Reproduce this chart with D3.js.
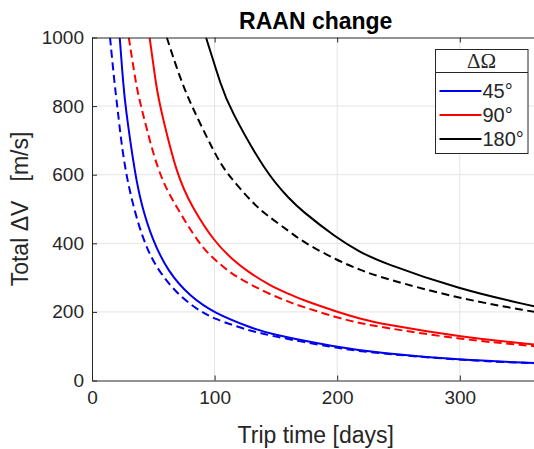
<!doctype html>
<html lang="en">
<head>
<meta charset="utf-8">
<script src="https://cdn.jsdelivr.net/npm/d3@7"></script>
<style>
  body {margin:0; background:#fff}
  svg {display:block; overflow:hidden; font-family:"Liberation Sans", Arial, sans-serif}
  .grid line {stroke:#e4e4e4; stroke-width:1}
  .axis path, .axis line {stroke:#262626}
  .axis text {fill:#262626; font-size:19px}
</style>
<title>RAAN change</title>
</head>
<body>
<script>
// [trip time (days), total dV (m/s)]
const dv45 = [[22.6,1000],[25.6,860],[27.2,800],[35.1,600],[40.5,510],[49,412],[62.3,315],[80,245],[100,196],[129,155],[143,137],[200,97],[235,80],[300,60],[361,51]];
const dv45Dash = [[14.7,1000],[18.8,850],[20.7,800],[26.7,600],[41.7,400],[55.5,312],[71.8,244],[89,200],[100,180],[118,157],[143,131],[200,95],[219,84],[300,59],[361,50]];
const dv90 = [[47,1000],[52.7,850],[55.5,800],[69,600],[81.3,507],[100,403],[115,352],[126,320],[145,277],[161.5,251],[170,237],[200,200],[219,180],[235,166],[300,127],[361,105]];
const dv90Dash = [[30,1000],[36.5,850],[40,800],[54,600],[69,505],[87,400],[99,355],[112.6,315],[121,296],[143,254],[161.5,228],[170,217],[200,183],[219,167],[235,156],[300,120],[361,100]];
const dv180 = [[93,1000],[106,852],[111.5,800],[142,603],[162,526],[170,498],[200,414],[219,374],[235,346],[300,265],[361,216]];
const dv180Dash = [[61,1000],[71,890],[80.5,805],[100,663],[109,607],[131.6,515],[142.6,482],[161.5,433],[172.5,403],[200,350],[219,322],[235,301],[300,238],[361,200]];

const xTicks = [0,100,200,300];
const yTicks = [0,200,400,600,800,1000];
const legendLabels = ["45°","90°","180°"];

const colors = ["#0000ee","#ff0000","#000000"];
const series = [
  {data:dv45, c:0, dash:false}, {data:dv45Dash, c:0, dash:true},
  {data:dv90, c:1, dash:false}, {data:dv90Dash, c:1, dash:true},
  {data:dv180, c:2, dash:false}, {data:dv180Dash, c:2, dash:true}
];

let margin = {top:37.5, left:92};
let w = 447.5, h = 343;

let x = d3.scaleLinear().domain([0,365]).range([0,w]);
let y = d3.scaleLinear().domain([0,1000]).range([h,0]);

let svg = d3.select("body").append("svg")
  .attr("width",534)
  .attr("height",449);

let canvas = svg.append("g")
  .attr("transform","translate(" + margin.left + "," + margin.top + ")");

canvas.append("clipPath").attr("id","clip")
  .append("rect").attr("width",w).attr("height",h);

// grid
let grid = canvas.append("g").attr("class","grid");
grid.selectAll(".gx").data(xTicks.slice(1)).enter().append("line")
  .attr("x1",d=>x(d)).attr("x2",d=>x(d)).attr("y1",0).attr("y2",h);
grid.selectAll(".gy").data(yTicks.slice(1,-1)).enter().append("line")
  .attr("x1",0).attr("x2",w).attr("y1",d=>y(d)).attr("y2",d=>y(d));

// curves - b-spline smooths out the reading noise
let line = d3.line().x(d=>x(d[0])).y(d=>y(d[1])).curve(d3.curveBasis);
canvas.append("g").attr("clip-path","url(#clip)")
  .selectAll("path").data(series).enter().append("path")
  .attr("d",d=>line(d.data))
  .attr("fill","none")
  .attr("stroke",d=>colors[d.c])
  .attr("stroke-width",2)
  .attr("stroke-dasharray",d=>d.dash ? "8,4.5" : null);

// axes, matlab style ticks pointing inward
canvas.append("g").attr("class","axis")
  .attr("transform","translate(0," + h + ")")
  .call(d3.axisBottom(x).tickValues(xTicks).tickSizeInner(-5).tickSizeOuter(0).tickPadding(10).tickFormat(d3.format("d")));
canvas.append("g").attr("class","axis")
  .call(d3.axisLeft(y).tickValues(yTicks).tickSizeInner(-5).tickSizeOuter(0).tickPadding(8).tickFormat(d3.format("d")));
canvas.append("g").attr("class","axis")
  .call(d3.axisTop(x).tickValues(xTicks).tickSizeInner(-5).tickSizeOuter(0).tickFormat(""));

// titles
svg.append("text")
  .attr("x",margin.left + w/2).attr("y",29)
  .attr("text-anchor","middle")
  .attr("font-weight","bold").attr("font-size","23px")
  .text("RAAN change");

svg.append("text")
  .attr("x",margin.left + w/2).attr("y",443)
  .attr("text-anchor","middle").attr("fill","#262626")
  .attr("font-size","23px")
  .text("Trip time [days]");

svg.append("text")
  .attr("transform","translate(28," + (margin.top + h/2) + ") rotate(-90)")
  .attr("text-anchor","middle").attr("fill","#262626")
  .attr("font-size","23px")
  .text("Total ΔV\u00a0\u00a0\u00a0[m/s]");

// legend
let lg = svg.append("g").attr("transform","translate(435.5,49.5)");
lg.append("rect").attr("width",92.5).attr("height",104)
  .attr("fill","#fff").attr("stroke","#262626");
lg.append("line").attr("x1",0).attr("x2",92.5).attr("y1",23).attr("y2",23).attr("stroke","#262626");
lg.append("text").attr("x",46).attr("y",18.5).attr("text-anchor","middle")
  .attr("font-family","'Liberation Serif', serif")
  .attr("font-size","21px").attr("fill","#262626").text("ΔΩ");
let items = lg.selectAll(".item").data(legendLabels).enter().append("g")
  .attr("transform",(d,i)=>"translate(0," + (41.5 + i*24) + ")");
items.append("line").attr("x1",4).attr("x2",46).attr("stroke",(d,i)=>colors[i]).attr("stroke-width",2);
items.append("text").attr("x",47).attr("y",7).attr("font-size","20px").attr("fill","#262626").text(d=>d);
</script>
</body>
</html>
